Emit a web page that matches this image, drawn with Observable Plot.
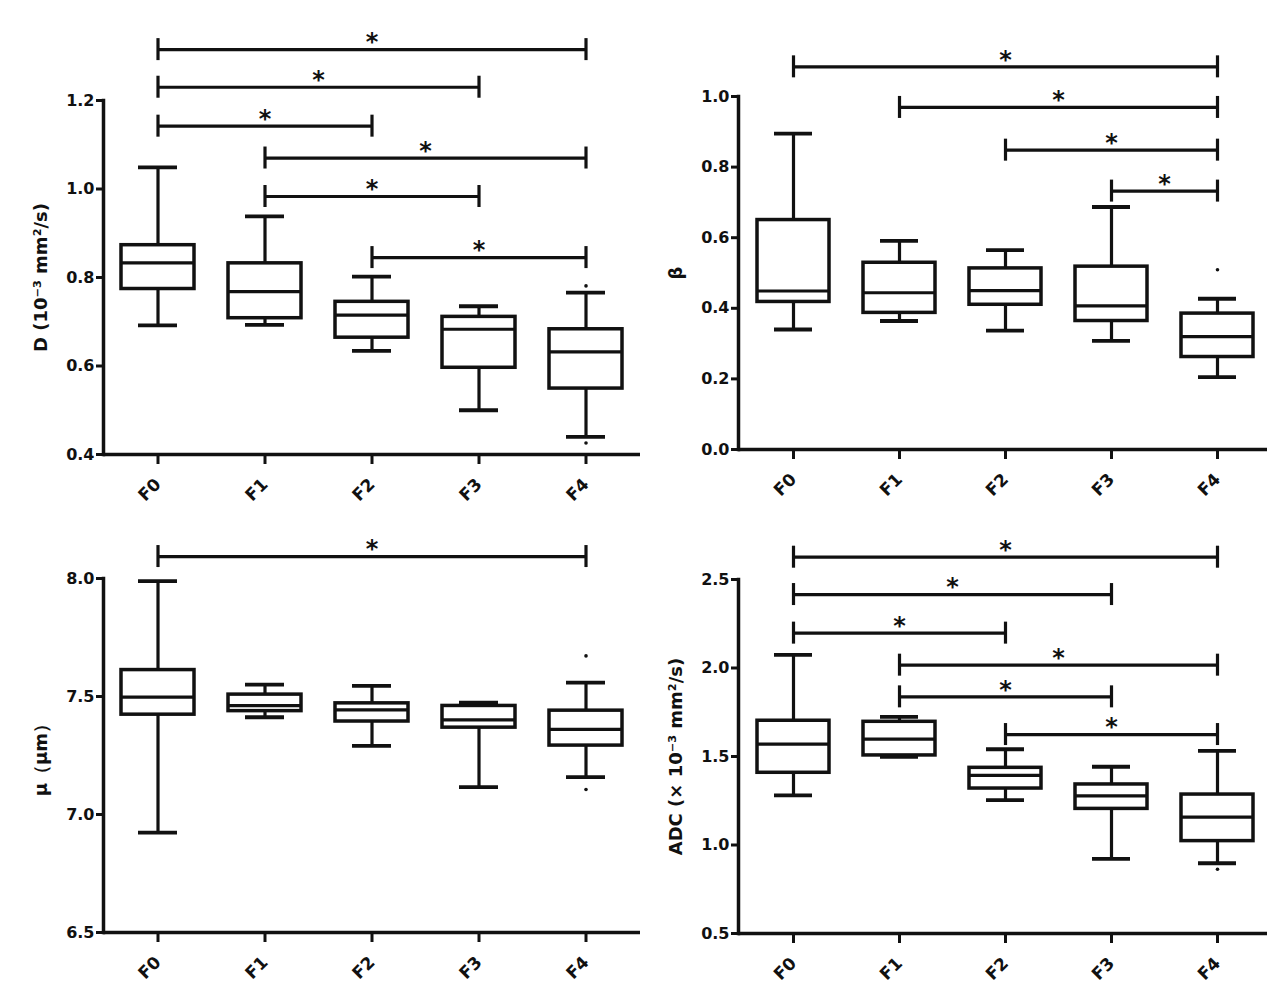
<!DOCTYPE html>
<html><head><meta charset="utf-8">
<script src="https://cdn.jsdelivr.net/npm/d3@7"></script>
<script src="https://cdn.jsdelivr.net/npm/@observablehq/plot@0.6"></script>
<style>
html,body{margin:0;padding:0;background:#fff;}
#root{position:relative;width:1267px;height:1001px;overflow:hidden;background:#fff;}
.panel{position:absolute;overflow:visible;}
</style></head><body><div id="root"></div>
<script>
const categories = ["F0", "F1", "F2", "F3", "F4"];

// Panel A: D (10^-3 mm2/s)
const dMin    = [0.692, 0.693, 0.634, 0.500, 0.440];
const dQ1     = [0.774, 0.708, 0.664, 0.596, 0.549];
const dMedian = [0.833, 0.768, 0.715, 0.683, 0.632];
const dQ3     = [0.873, 0.832, 0.745, 0.711, 0.683];
const dMax    = [1.049, 0.938, 0.802, 0.735, 0.766];
const dOutliers = [{cat: "F4", value: 0.781}, {cat: "F4", value: 0.426}];
const dBrackets = [
  {from: "F0", to: "F4", y: 1.315},
  {from: "F0", to: "F3", y: 1.230},
  {from: "F0", to: "F2", y: 1.142},
  {from: "F1", to: "F4", y: 1.070},
  {from: "F1", to: "F3", y: 0.983},
  {from: "F2", to: "F4", y: 0.845}
];
const dTicks = [0.4, 0.6, 0.8, 1.0, 1.2];

// Panel B: beta
const bMin    = [0.340, 0.364, 0.337, 0.308, 0.205];
const bQ1     = [0.418, 0.387, 0.410, 0.364, 0.262];
const bMedian = [0.449, 0.444, 0.450, 0.407, 0.320];
const bQ3     = [0.650, 0.529, 0.513, 0.518, 0.385];
const bMax    = [0.895, 0.591, 0.565, 0.687, 0.427];
const bOutliers = [{cat: "F4", value: 0.509}];
const bBrackets = [
  {from: "F0", to: "F4", y: 1.084},
  {from: "F1", to: "F4", y: 0.969},
  {from: "F2", to: "F4", y: 0.848},
  {from: "F3", to: "F4", y: 0.732}
];
const bTicks = [0.0, 0.2, 0.4, 0.6, 0.8, 1.0];

// Panel C: mu (um)
const mMin    = [6.923, 7.412, 7.291, 7.116, 7.158];
const mQ1     = [7.423, 7.438, 7.394, 7.368, 7.292];
const mMedian = [7.497, 7.461, 7.443, 7.401, 7.361];
const mQ3     = [7.612, 7.508, 7.471, 7.460, 7.440];
const mMax    = [7.989, 7.550, 7.545, 7.474, 7.559];
const mOutliers = [{cat: "F4", value: 7.672}, {cat: "F4", value: 7.106}];
const mBrackets = [{from: "F0", to: "F4", y: 8.093}];
const mTicks = [6.5, 7.0, 7.5, 8.0];

// Panel D: ADC (x 10^-3 mm2/s)
const aMin    = [1.280, 1.498, 1.253, 0.922, 0.897];
const aQ1     = [1.408, 1.506, 1.319, 1.204, 1.022];
const aMedian = [1.570, 1.598, 1.393, 1.278, 1.157];
const aQ3     = [1.702, 1.696, 1.436, 1.342, 1.285];
const aMax    = [2.074, 1.724, 1.541, 1.442, 1.532];
const aOutliers = [{cat: "F4", value: 0.863}];
const aBrackets = [
  {from: "F0", to: "F4", y: 2.626},
  {from: "F0", to: "F3", y: 2.415},
  {from: "F0", to: "F2", y: 2.197},
  {from: "F1", to: "F4", y: 2.016},
  {from: "F1", to: "F3", y: 1.837},
  {from: "F2", to: "F4", y: 1.624}
];
const aTicks = [0.5, 1.0, 1.5, 2.0, 2.5];

const FONT = "DejaVu Sans, Liberation Sans, Arial, sans-serif";

function makePanel(cfg) {
  const boxes = categories.map((c, i) => ({
    cat: c, min: cfg.min[i], q1: cfg.q1[i], median: cfg.median[i], q3: cfg.q3[i], max: cfg.max[i]
  }));
  const base = (extra) => ({
    width: cfg.width,
    height: cfg.height,
    marginLeft: cfg.marginLeft,
    marginRight: 0,
    marginTop: cfg.marginTop,
    marginBottom: cfg.marginBottom,
    style: {fontFamily: FONT, fontWeight: "bold", fontSize: "16px", color: "#111", background: "transparent", overflow: "visible"},
    x: {type: "band", domain: categories, paddingInner: 0.32, paddingOuter: 0.16, label: null},
    y: {domain: cfg.domain, label: null},
    marks: [
      Plot.axisY({ticks: cfg.ticks, tickFormat: d3.format(".1f"), tickSize: 7, tickPadding: 2, strokeWidth: 3, fontSize: 16, label: null}),
      Plot.axisX({tickRotate: -45, tickSize: 10, tickPadding: 17, strokeWidth: 3, fontSize: 17, label: null}),
      Plot.frame({anchor: "left", strokeWidth: 3.5}),
      Plot.ruleY([cfg.domain[0]], {strokeWidth: 3.5}),
      Plot.text([cfg.label], {text: d => d, frameAnchor: "left", textAnchor: "middle", rotate: -90, dx: -62, fontSize: 18, fontWeight: "bold"}),
      Plot.ruleX(boxes, {x: "cat", y1: "min", y2: "max", strokeWidth: 3.2}),
      Plot.barY(boxes, {x: "cat", y1: "q1", y2: "q3", fill: "white", stroke: "#111", strokeWidth: 3.5}),
      Plot.tickY(boxes, {x: "cat", y: "median", strokeWidth: 3.2}),
      Plot.tickY(boxes, {x: "cat", y: "min", strokeWidth: 3.8, insetLeft: 17, insetRight: 17}),
      Plot.tickY(boxes, {x: "cat", y: "max", strokeWidth: 3.8, insetLeft: 17, insetRight: 17}),
      Plot.dot(cfg.outliers, {x: "cat", y: "value", r: 1.8, fill: "#111", stroke: null}),
      Plot.link(cfg.brackets, {x1: "from", x2: "to", y1: "y", y2: "y", strokeWidth: 3.2}),
      Plot.ruleX(cfg.brackets, {x: "from", y1: "y", y2: "y", insetTop: -11, insetBottom: -11, strokeWidth: 3.2}),
      Plot.ruleX(cfg.brackets, {x: "to", y1: "y", y2: "y", insetTop: -11, insetBottom: -11, strokeWidth: 3.2}),
      ...extra
    ]
  });
  const probe = Plot.plot(base([]));
  const xs = probe.scale("x");
  const stars = cfg.brackets.map(b => Plot.text([b], {
    x: "from", y: "y", text: () => "*",
    dx: (xs.apply(b.to) - xs.apply(b.from)) / 2, dy: -7,
    fontSize: 24, fontWeight: "bold"
  }));
  const chart = Plot.plot(base(stars));
  const div = document.createElement("div");
  div.className = "panel";
  div.style.left = cfg.left + "px";
  div.style.top = cfg.top + "px";
  div.style.width = cfg.width + "px";
  div.style.height = cfg.height + "px";
  div.appendChild(chart);
  document.getElementById("root").appendChild(div);
}

makePanel({left: 0, top: 0, width: 640, height: 500, marginLeft: 103, marginTop: 100, marginBottom: 46,
  domain: [0.4, 1.2], ticks: dTicks, label: "D (10⁻³ mm²/s)",
  min: dMin, q1: dQ1, median: dMedian, q3: dQ3, max: dMax, outliers: dOutliers, brackets: dBrackets});
makePanel({left: 640, top: 0, width: 632, height: 500, marginLeft: 98, marginTop: 96, marginBottom: 51,
  domain: [0, 1.0], ticks: bTicks, label: "β",
  min: bMin, q1: bQ1, median: bMedian, q3: bQ3, max: bMax, outliers: bOutliers, brackets: bBrackets});
makePanel({left: 0, top: 500, width: 640, height: 501, marginLeft: 103, marginTop: 78, marginBottom: 69,
  domain: [6.5, 8.0], ticks: mTicks, label: "μ（μm）",
  min: mMin, q1: mQ1, median: mMedian, q3: mQ3, max: mMax, outliers: mOutliers, brackets: mBrackets});
makePanel({left: 640, top: 500, width: 632, height: 501, marginLeft: 98, marginTop: 79, marginBottom: 68,
  domain: [0.5, 2.5], ticks: aTicks, label: "ADC (× 10⁻³ mm²/s)",
  min: aMin, q1: aQ1, median: aMedian, q3: aQ3, max: aMax, outliers: aOutliers, brackets: aBrackets});
</script>
</body></html>
